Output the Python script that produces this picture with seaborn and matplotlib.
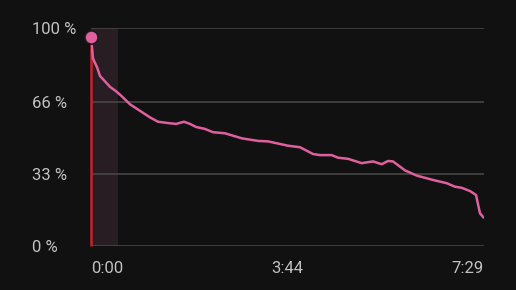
import matplotlib
matplotlib.use("Agg")
import matplotlib.pyplot as plt
import seaborn as sns
import pandas as pd

# time in seconds, battery level in %
time_s = [0, 2.3, 4.6, 6.9, 10.3, 14.9, 21.7, 28.6, 34.3, 44.6, 56.0, 67.4, 76.5, 88.0, 97.1,
          106.3, 113.1, 120.0, 130.2, 139.4, 153.1, 172.2, 190.8, 202.2, 225.1, 238.8, 253.6,
          261.6, 275.0, 282.2, 293.6, 309.3, 322.2, 332.1, 339.3, 345.0, 358.7, 372.1, 390.7,
          406.4, 415.9, 423.5, 433.0, 439.9, 444.4, 448.2, 449]
level = [96, 86, 84, 82, 78, 76, 73, 71, 69, 65, 62, 59, 57, 56.4, 56,
         57, 56, 54.6, 53.7, 52.2, 51.7, 49.4, 48.2, 48, 46, 45.3, 42.2,
         41.7, 41.7, 40.5, 40, 38, 38.8, 37.5, 39, 38.8, 34.7, 32.3, 30.3,
         28.8, 27.2, 26.7, 25.2, 23.4, 15, 13.2, 13]

y_ticks = [0, 33, 66, 100]
y_labels = ["0 %", "33 %", "66 %", "100 %"]
x_ticks = [0, 224, 449]
x_labels = ["0:00", "3:44", "7:29"]
band_end = 31

df = pd.DataFrame({"t": time_s, "level": level})

BG = "#111111"
TXT = "#c2c2c2"
GRID = "#4a4a4a"
PINK = "#e0609f"

sns.set_theme(style="dark")
plt.rcParams["font.family"] = ["Roboto", "DejaVu Sans"]

fig = plt.figure(figsize=(5.16, 2.90), dpi=100, facecolor=BG)
ax = fig.add_axes([91 / 516, 1 - 246 / 290, (484 - 91) / 516, (246 - 28) / 290])
ax.set_facecolor(BG)

for v in y_ticks:
    ax.axhline(v, color=GRID, lw=1.1, zorder=1)

ax.axvspan(0, band_end, color="#271d22", zorder=0.5, lw=0)
ax.vlines(0, 0, level[0], color="#c8202c", lw=1.8, zorder=2, clip_on=False)

sns.lineplot(data=df, x="t", y="level", ax=ax, color=PINK, lw=1.8, zorder=3)
ax.plot([time_s[0]], [level[0]], "o", ms=9.5, color=PINK, mec="#1a1a1a", mew=1.2,
        zorder=4, clip_on=False)

ax.set_xlim(0, 449)
ax.set_ylim(0, 100)
ax.set_xlabel("")
ax.set_ylabel("")
for s in ax.spines.values():
    s.set_visible(False)
ax.grid(False)

ax.set_yticks(y_ticks)
ax.set_yticklabels(y_labels)
ax.set_xticks(x_ticks)
ax.set_xticklabels(x_labels)
ax.tick_params(axis="both", length=0, colors=TXT, labelsize=12)
ax.tick_params(axis="y", pad=42.5)
ax.tick_params(axis="x", pad=10.5)
for lab in ax.get_yticklabels():
    lab.set_horizontalalignment("left")
xl = ax.get_xticklabels()
xl[0].set_horizontalalignment("left")
xl[2].set_horizontalalignment("right")

fig.savefig("out.png", dpi=100, facecolor=BG)
